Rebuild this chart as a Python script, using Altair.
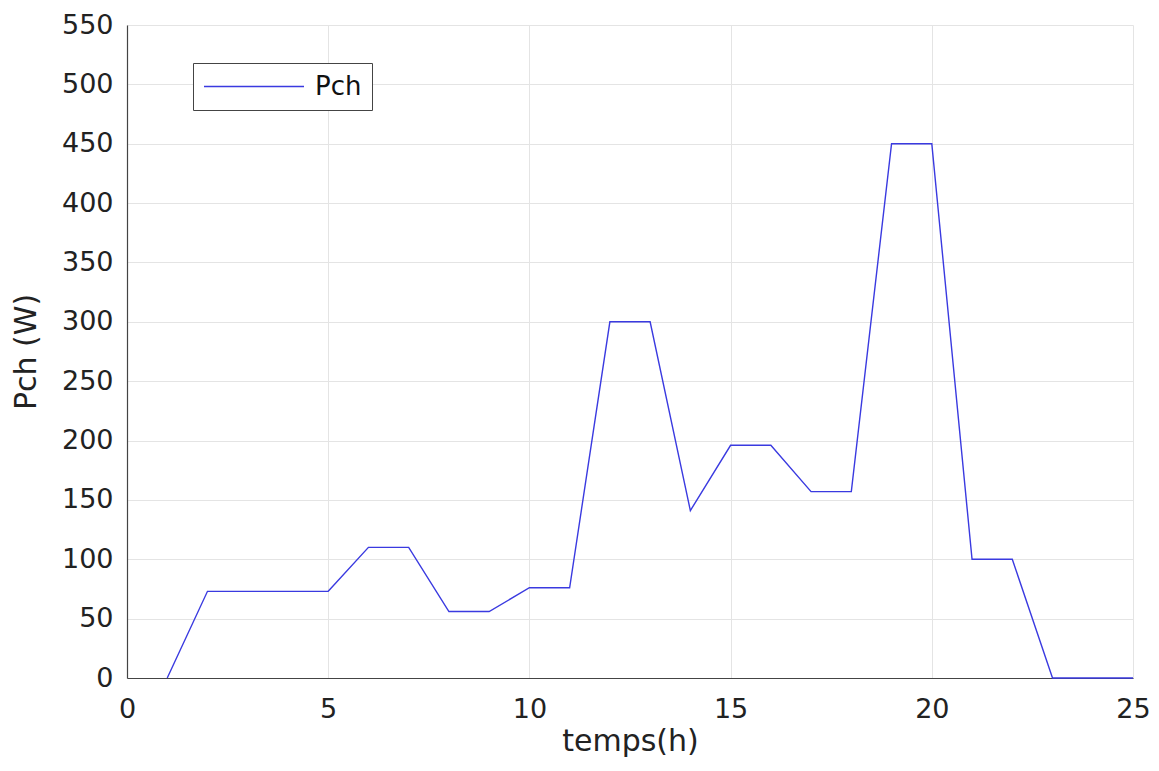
import altair as alt
import pandas as pd

t = [1, 2, 5, 6, 7, 8, 9, 10, 11, 12, 13, 14, 15, 16, 17, 18, 19, 20, 21, 22, 23, 25]
pch = [0, 73, 73, 110, 110, 56, 56, 76, 76, 300, 300, 141, 196, 196, 157, 157, 450, 450, 100, 100, 0, 0]
x_ticks = [0, 5, 10, 15, 20, 25]
y_ticks = list(range(0, 551, 50))
series = "Pch"

df = pd.DataFrame({"t": t, "p": pch, "s": [series] * len(t)})

FONT = "DejaVu Sans"

line = alt.Chart(df).mark_line(strokeWidth=1.4).encode(
    x=alt.X("t:Q", scale=alt.Scale(domain=[0, 25], nice=False),
            axis=alt.Axis(values=x_ticks, title="temps(h)", titlePadding=4,
                          labelPadding=18, labelFlush=False)),
    y=alt.Y("p:Q", scale=alt.Scale(domain=[0, 550], nice=False),
            axis=alt.Axis(values=y_ticks, title="Pch (W)", titlePadding=20,
                          labelPadding=14, labelFlush=False)),
    color=alt.Color("s:N", scale=alt.Scale(range=["#3a3ae0"]),
                    legend=alt.Legend(title=None, orient="none", legendX=66, legendY=38,
                                      symbolType="stroke", symbolSize=10000, clipHeight=27,
                                      symbolStrokeWidth=1.5, labelFontSize=26,
                                      labelFont=FONT, labelColor="#111",
                                      strokeColor="#444", fillColor="white",
                                      padding=10, labelOffset=10, cornerRadius=0)),
)

chart = line.properties(
    width=1006, height=653,
    autosize=alt.AutoSizeParams(type="none"),
    padding={"left": 119, "top": 17, "right": 18, "bottom": 84},
).configure_view(stroke=None).configure_axis(
    labelFont=FONT, titleFont=FONT,
    labelFontSize=27, titleFontSize=30, labelColor="#222", titleColor="#222",
    titleFontWeight="normal", gridColor="#e4e4e4", gridWidth=1,
    domainColor="#444", domainWidth=1.2, ticks=False,
)

chart.save("out.html", embed_options={"renderer": "svg", "actions": False})
